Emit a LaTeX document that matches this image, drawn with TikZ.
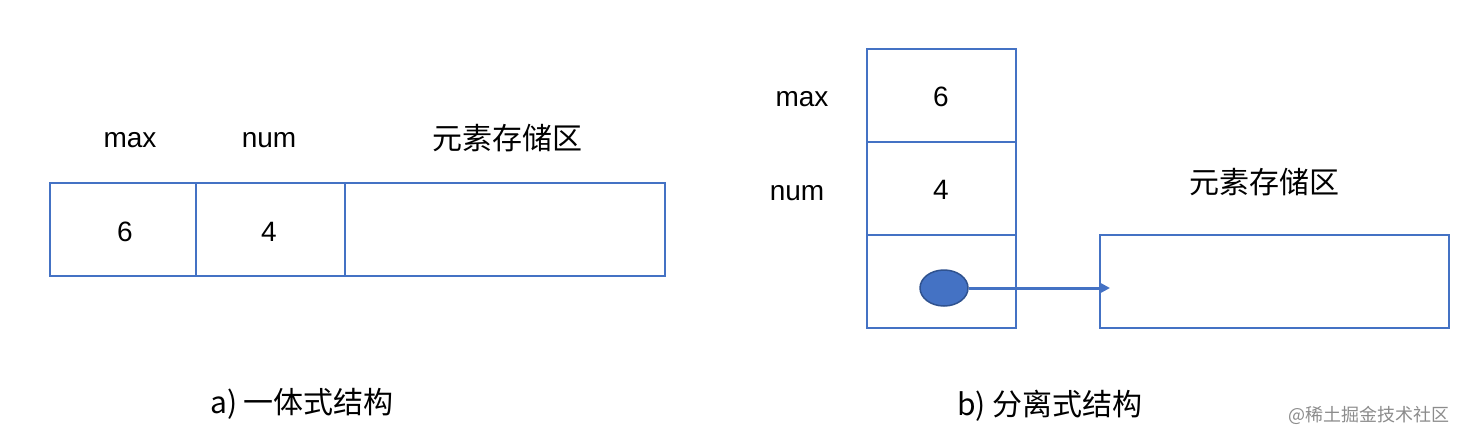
\documentclass[tikz,border=0pt]{standalone}
\usepackage{fontspec}
\setmainfont{Liberation Sans}
\newfontfamily\cjk{Noto Sans CJK SC}
\usetikzlibrary{shapes.geometric,arrows.meta}
\definecolor{boxblue}{HTML}{4472C4}
\definecolor{darkblue}{HTML}{2F528F}
\tikzset{
  cell/.style={draw=boxblue, line width=2pt, inner sep=0pt, outer sep=0pt, minimum height=93pt},
  lbl/.style={inner sep=0pt, font=\fontsize{28}{32}\selectfont},
  cjklbl/.style={inner sep=0pt, font=\fontsize{30}{34}\selectfont\cjk},
  ptr/.style={draw=boxblue, line width=3pt, -{Triangle[length=9pt,width=9pt]}},
}
\begin{document}
\begin{tikzpicture}[x=1pt,y=-1pt]
\useasboundingbox (0,0) rectangle (1463,442);
% a) integrated
\node[cell, minimum width=146pt] (a1) at (123,229.5) {};
\node[cell, minimum width=149pt] (a2) at (270.5,229.5) {};
\node[cell, minimum width=320pt] (a3) at (505,229.5) {};
\node[lbl] (a1v) at (125,231.5) {6};
\node[lbl] (a2v) at (269,231.5) {4};
\node[lbl] (amax) at (130,140) {max};
\node[lbl] (anum) at (269,140) {num};
\node[cjklbl] (astore) at (507,138) {元素存储区};
\node[cjklbl] (acap) at (302,404) {a) 一体式结构};
% b) separated
\node[cell, minimum width=149pt] (b1) at (941.5,95.5) {};
\node[cell, minimum width=149pt] (b2) at (941.5,188.5) {};
\node[cell, minimum width=149pt] (b3) at (941.5,281.5) {};
\node[cell, minimum width=349pt] (rb) at (1274.5,281.5) {};
\node[lbl] (b1v) at (941,97) {6};
\node[lbl] (b2v) at (941,190) {4};
\node[lbl] (bmax) at (802,99) {max};
\node[lbl] (bnum) at (797,193) {num};
\node[cjklbl] (bstore) at (1264,182) {元素存储区};
\node[cjklbl] (bcap) at (1050,406) {b) 分离式结构};
\node[ellipse, draw=darkblue, fill=boxblue, line width=1.5pt, minimum width=48pt, minimum height=36pt, inner sep=0pt] (e) at (944,288) {};
\coordinate (tip) at (1110,288);
\draw[ptr] (e.east) -- (tip);
% watermark
\node[inner sep=0pt, text=black!45, font=\fontsize{18}{20}\selectfont\cjk] (wm) at (1369,415) {@稀土掘金技术社区};
\end{tikzpicture}
\end{document}
